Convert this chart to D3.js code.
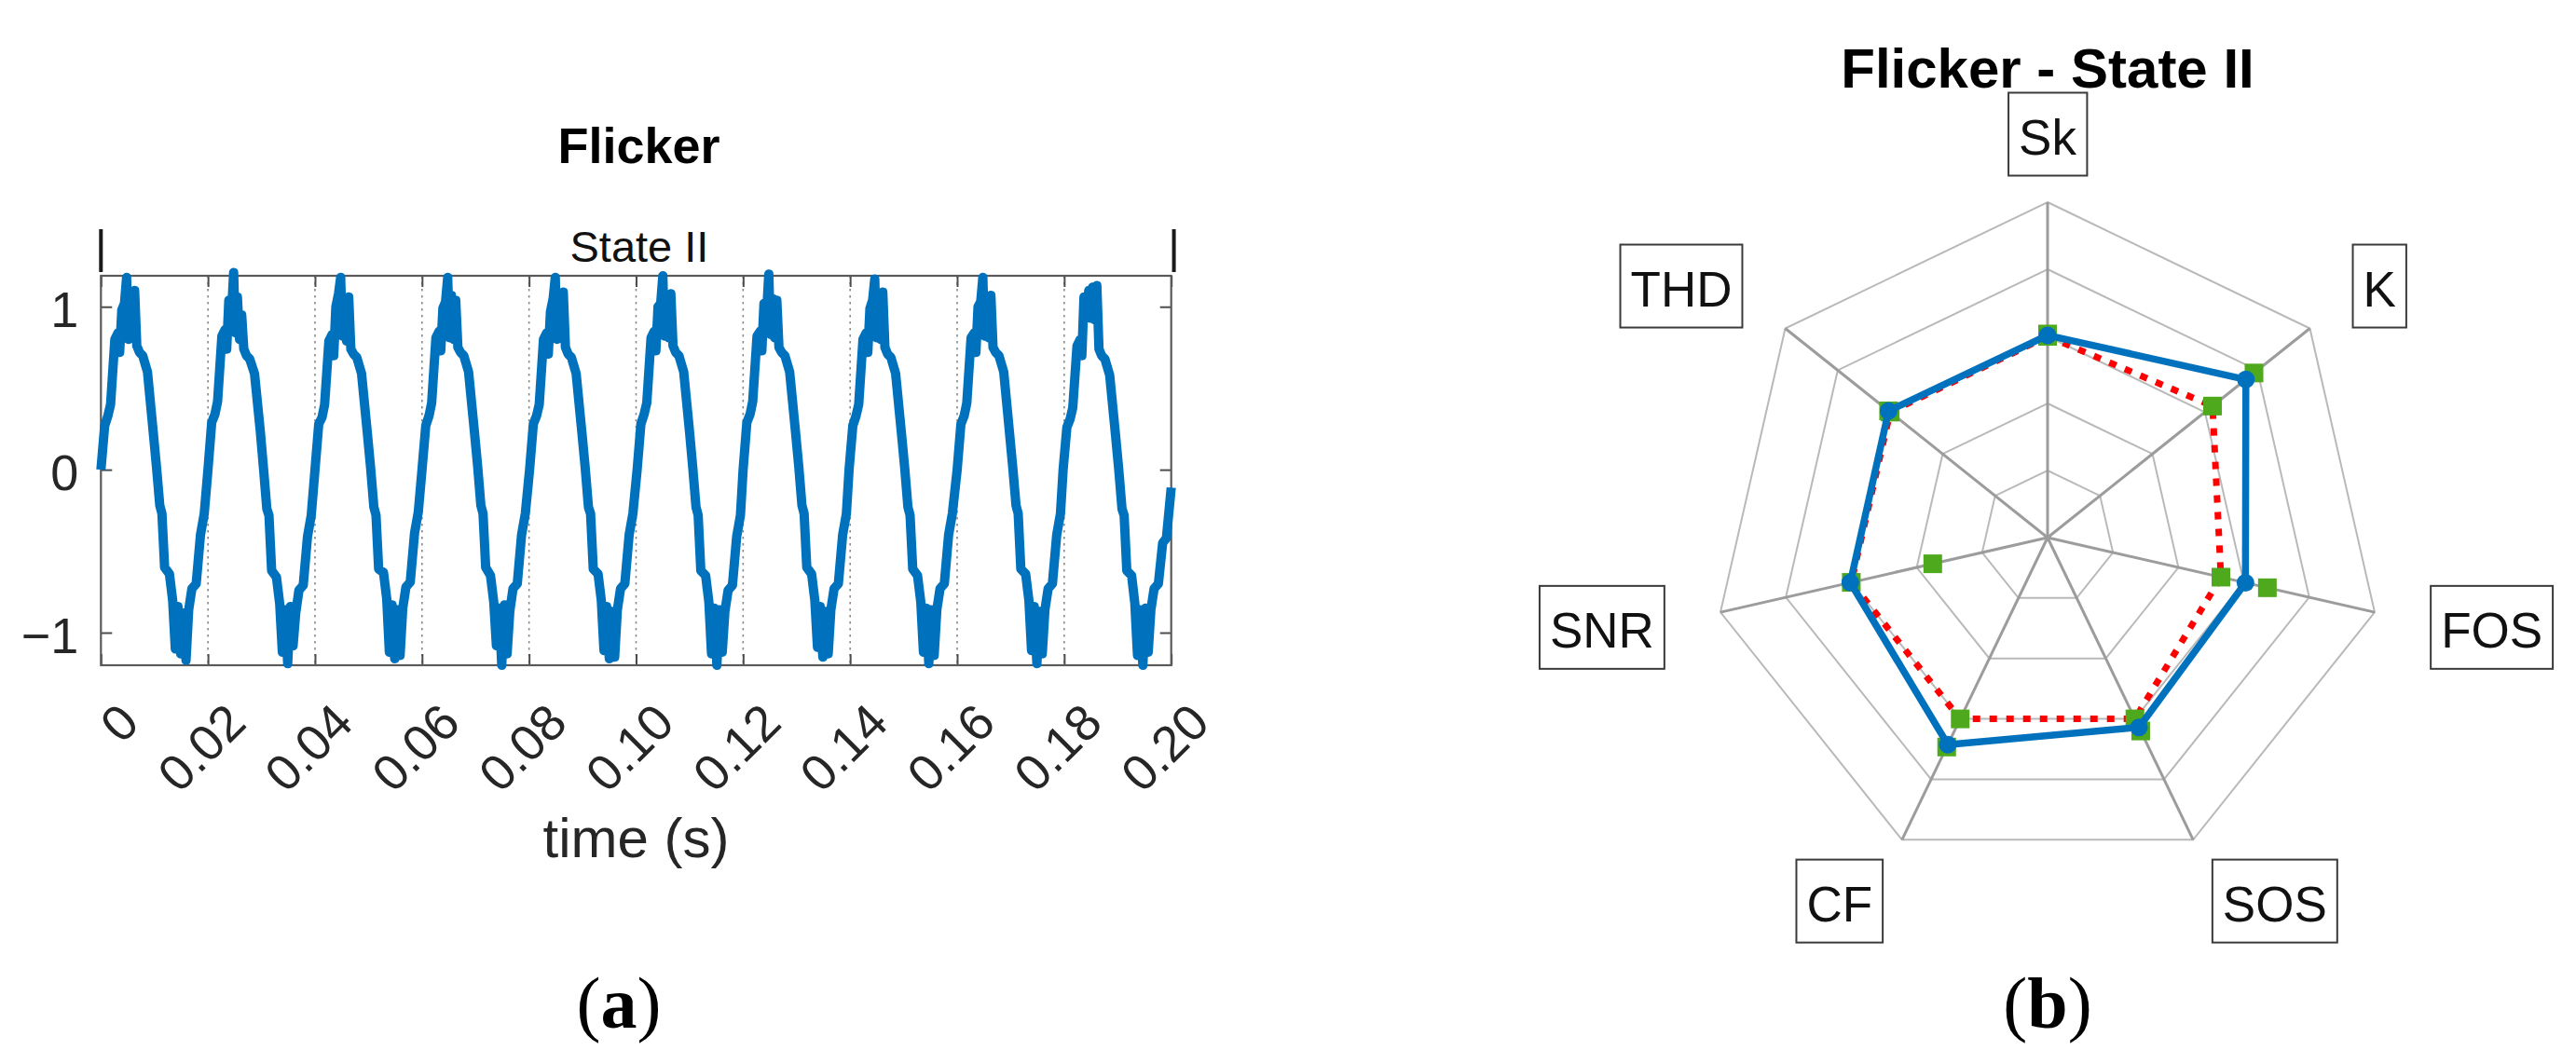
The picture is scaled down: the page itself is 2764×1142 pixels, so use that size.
<!DOCTYPE html>
<html>
<head>
<meta charset="utf-8">
<script src="https://cdn.jsdelivr.net/npm/d3@7"></script>
<style>
  html, body { margin: 0; padding: 0; background: #ffffff; }
  svg { display: block; }
</style>
</head>
<body>
<svg id="chart" width="2764" height="1142"></svg>
<script>
// ---------------- DATA ----------------
// (a) time-domain signal
const timeTicks = [0, 0.02, 0.04, 0.06, 0.08, 0.10, 0.12, 0.14, 0.16, 0.18, 0.20];
const timeTickLabels = ["0", "0.02", "0.04", "0.06", "0.08", "0.10", "0.12", "0.14", "0.16", "0.18", "0.20"];
const valueTicks = [-1, 0, 1];
const valueTickLabels = ["\u22121", "0", "1"];
const stateSpan = [0, 0.2005];
const stateLabel = "State II";

// start time (s) of each 50 Hz cycle, read at the rising zero crossings
const cycleStart = [0, 0.0200, 0.0400, 0.0600, 0.0801, 0.1002, 0.1200, 0.1398, 0.1600, 0.1798];
// position (ms) inside a cycle of each value
const phaseMs = [0, 0.7, 1.3, 1.8, 2.6, 3.2, 3.5, 3.9, 4.4, 4.8, 5.1, 5.5, 5.9, 6.3, 6.7, 7.2, 7.8, 8.7, 9.8, 10.4,
                 11.0, 11.4, 11.9, 12.8, 13.4, 13.9, 14.4, 14.9, 15.4, 15.9, 16.4, 17.0, 17.8, 18.6, 19.3];
const cycle1  = [0,.27,.33,.40,.80,.84,.72,.98,1.02,1.18,.80,1.05,.82,1.10,.76,.72,.70,.60,.22,.01,-.22,-.27,-.60,-.64,-.80,-1.10,-.84,-1.13,-.88,-1.17,-.86,-.73,-.70,-.40,-.27];
const cycle2  = [0,.29,.34,.42,.82,.86,.74,1.04,.96,1.21,.84,1.06,.80,.95,.74,.70,.68,.59,.23,.00,-.24,-.28,-.62,-.66,-.82,-1.12,-.86,-1.19,-.84,-1.08,-.88,-.74,-.71,-.41,-.28];
const cycle3  = [0,.28,.32,.40,.79,.83,.70,1.00,1.08,1.18,.82,1.04,.79,1.06,.74,.71,.69,.59,.22,.01,-.23,-.28,-.61,-.63,-.79,-1.12,-.83,-1.16,-.86,-1.14,-.85,-.72,-.69,-.39,-.26];
const cycle4  = [0,.27,.33,.41,.81,.85,.73,.99,1.03,1.18,.81,1.07,.80,1.04,.75,.72,.70,.60,.23,.02,-.22,-.27,-.60,-.65,-.81,-1.08,-.85,-1.20,-.83,-1.13,-.87,-.73,-.70,-.40,-.27];
const cycle5  = [0,.28,.33,.40,.80,.84,.71,.97,1.05,1.18,.80,1.03,.81,1.09,.75,.71,.69,.59,.22,.01,-.23,-.27,-.61,-.64,-.80,-1.11,-.84,-1.16,-.87,-1.15,-.86,-.73,-.70,-.40,-.27];
const cycle6  = [0,.28,.34,.41,.81,.85,.73,1.00,1.02,1.19,.82,1.06,.81,1.08,.76,.72,.70,.60,.23,.01,-.23,-.28,-.62,-.65,-.81,-1.13,-.85,-1.20,-.86,-1.12,-.87,-.74,-.71,-.41,-.28];
const cycle7  = [0,.29,.34,.42,.82,.85,.73,1.02,.97,1.20,.83,1.05,.81,1.04,.75,.72,.70,.60,.23,.02,-.22,-.27,-.60,-.64,-.80,-1.09,-.84,-1.15,-.87,-1.13,-.86,-.73,-.70,-.40,-.27];
const cycle8  = [0,.27,.33,.40,.80,.84,.72,.99,1.04,1.17,.81,1.06,.80,1.09,.75,.71,.69,.59,.22,.01,-.23,-.28,-.61,-.65,-.81,-1.12,-.85,-1.19,-.86,-1.14,-.86,-.73,-.70,-.40,-.27];
const cycle9  = [0,.28,.33,.41,.81,.84,.72,1.00,1.03,1.18,.82,1.04,.81,1.07,.75,.72,.70,.60,.22,.01,-.22,-.27,-.61,-.64,-.80,-1.11,-.84,-1.19,-.87,-1.13,-.86,-.73,-.70,-.40,-.27];
const cycle10 = [0,.26,.31,.38,.76,.80,.70,1.06,1.00,1.10,.93,1.12,.92,1.13,.74,.70,.68,.58,.21,.00,-.24,-.28,-.62,-.65,-.82,-1.14,-.86,-1.20,-.85,-1.12,-.86,-.73,-.70,-.45,-.42];
const signalEnd = [0.2, -0.11];

// (b) spider plot
const radarAxes  = ["Sk", "K", "FOS", "SOS", "CF", "SNR", "THD"];
const radarRings = [0.2, 0.4, 0.6, 0.8, 1.0];
const radarBlue  = [0.603, 0.756, 0.605, 0.628, 0.685, 0.603, 0.606];
const radarRed   = [0.600, 0.629, 0.530, 0.600, 0.600, 0.600, 0.600];
const radarGreen = [0.607, 0.787, 0.672, 0.640, 0.693, 0.351, 0.606];

// ---------------- DRAW ----------------
const SANS = "'Liberation Sans', Arial, Helvetica, sans-serif";
const SERIF = "'Liberation Serif', 'Times New Roman', serif";
const svg = d3.select("#chart");
svg.append("rect").attr("width", 2764).attr("height", 1142).attr("fill", "#ffffff");

// ===== Panel (a) =====
const A = { left: 108.3, right: 1256.7, top: 296, bottom: 714 };
const x = d3.scaleLinear().domain([0, 0.2]).range([A.left, A.right]);
const y = d3.scaleLinear().domain([-1.2, 1.19]).range([A.bottom, A.top]);
const ga = svg.append("g");

// build signal points
const cycles = [cycle1, cycle2, cycle3, cycle4, cycle5, cycle6, cycle7, cycle8, cycle9, cycle10];
const signal = [];
cycles.forEach((vals, c) => {
  vals.forEach((v, k) => signal.push([cycleStart[c] + phaseMs[k] / 1000, v]));
});
signal.push(signalEnd);

// dotted grid (interior ticks)
ga.append("g").selectAll("line")
  .data(timeTicks.filter(t => t > 0 && t < 0.2))
  .join("line")
  .attr("x1", d => x(d)).attr("x2", d => x(d))
  .attr("y1", A.top).attr("y2", A.bottom)
  .attr("stroke", "#8a8a8a").attr("stroke-width", 1.6)
  .attr("stroke-dasharray", "2.5,4.5");

// ticks (inward) using d3 axes
const tickStyle = g => {
  g.select(".domain").remove();
  g.selectAll(".tick line").attr("stroke", "#4d4d4d").attr("stroke-width", 2);
  g.selectAll(".tick text").remove();
};
ga.append("g").attr("transform", `translate(0,${A.bottom})`)
  .call(d3.axisBottom(x).tickValues(timeTicks).tickSize(-12)).call(tickStyle);
ga.append("g").attr("transform", `translate(0,${A.top})`)
  .call(d3.axisTop(x).tickValues(timeTicks).tickSize(-12)).call(tickStyle);
ga.append("g").attr("transform", `translate(${A.left},0)`)
  .call(d3.axisLeft(y).tickValues(valueTicks).tickSize(-12)).call(tickStyle);
ga.append("g").attr("transform", `translate(${A.right},0)`)
  .call(d3.axisRight(y).tickValues(valueTicks).tickSize(-12)).call(tickStyle);

// box
ga.append("rect")
  .attr("x", A.left).attr("y", A.top)
  .attr("width", A.right - A.left).attr("height", A.bottom - A.top)
  .attr("fill", "none").attr("stroke", "#5a5a5a").attr("stroke-width", 2.2);

// signal line
ga.append("path")
  .datum(signal)
  .attr("d", d3.line().x(d => x(d[0])).y(d => y(d[1])))
  .attr("fill", "none").attr("stroke", "#0072BD")
  .attr("stroke-width", 10).attr("stroke-linejoin", "round").attr("stroke-linecap", "butt");

// y tick labels
ga.append("g").selectAll("text")
  .data(valueTicks)
  .join("text")
  .attr("x", A.left - 24).attr("y", d => y(d) + 22)
  .attr("text-anchor", "end")
  .attr("font-family", SANS).attr("font-size", 54).attr("fill", "#262626")
  .text((d, i) => valueTickLabels[i]);

// x tick labels (rotated 45°)
ga.append("g").selectAll("text")
  .data(timeTicks)
  .join("text")
  .attr("transform", d => `translate(${x(d) + 30},${A.bottom + 51}) rotate(-45)`)
  .attr("text-anchor", "end").attr("dominant-baseline", "central")
  .attr("font-family", SANS).attr("font-size", 54).attr("fill", "#262626")
  .text((d, i) => timeTickLabels[i]);

// x label
ga.append("text")
  .attr("x", (A.left + A.right) / 2).attr("y", 920)
  .attr("text-anchor", "middle")
  .attr("font-family", SANS).attr("font-size", 60).attr("fill", "#262626")
  .text("time (s)");

// title
ga.append("text")
  .attr("x", (A.left + A.right) / 2 + 3).attr("y", 175)
  .attr("text-anchor", "middle")
  .attr("font-family", SANS).attr("font-size", 54).attr("font-weight", "bold").attr("fill", "#000")
  .text("Flicker");

// state markers and label
ga.append("g").selectAll("line")
  .data(stateSpan)
  .join("line")
  .attr("x1", d => x(d)).attr("x2", d => x(d))
  .attr("y1", 246).attr("y2", 292)
  .attr("stroke", "#1a1a1a").attr("stroke-width", 4);
ga.append("text")
  .attr("x", (x(stateSpan[0]) + x(stateSpan[1])) / 2 + 2).attr("y", 281)
  .attr("text-anchor", "middle")
  .attr("font-family", SANS).attr("font-size", 47).attr("fill", "#111")
  .text(stateLabel);

// (a)
const la = svg.append("text")
  .attr("x", 664).attr("y", 1103)
  .attr("text-anchor", "middle")
  .attr("font-family", SERIF).attr("font-size", 78).attr("fill", "#000");
la.append("tspan").text("(");
la.append("tspan").attr("font-weight", "bold").text("a");
la.append("tspan").text(")");

// ===== Panel (b) =====
const cx = 2197, cy = 577, R = 360, LABEL_R = 433;
const n = radarAxes.length;
const angle = i => i * 2 * Math.PI / n;
const r = d3.scaleLinear().domain([0, 1]).range([0, R]);
const gb = svg.append("g").attr("transform", `translate(${cx},${cy})`);

const radial = d3.lineRadial()
  .angle((d, i) => angle(i))
  .radius(d => r(d))
  .curve(d3.curveLinearClosed);

// rings
gb.append("g").selectAll("path")
  .data(radarRings)
  .join("path")
  .attr("d", v => radial(radarAxes.map(() => v)))
  .attr("fill", "none").attr("stroke", "#b9b9b9").attr("stroke-width", 2);

// spokes
gb.append("g").selectAll("line")
  .data(radarAxes)
  .join("line")
  .attr("x1", 0).attr("y1", 0)
  .attr("x2", (d, i) => r(1) * Math.sin(angle(i)))
  .attr("y2", (d, i) => -r(1) * Math.cos(angle(i)))
  .attr("stroke", "#9c9c9c").attr("stroke-width", 3);

const px = (v, i) => r(v) * Math.sin(angle(i));
const py = (v, i) => -r(v) * Math.cos(angle(i));
const SQ = 20;
const GREEN = "#4fa91c";

// red dotted series
gb.append("path")
  .attr("d", radial(radarRed))
  .attr("fill", "none").attr("stroke", "#ff0000")
  .attr("stroke-width", 7).attr("stroke-dasharray", "8,10");

// green square markers (red series and green series)
gb.append("g").selectAll("rect")
  .data(radarRed)
  .join("rect")
  .attr("x", (v, i) => px(v, i) - SQ / 2).attr("y", (v, i) => py(v, i) - SQ / 2)
  .attr("width", SQ).attr("height", SQ).attr("fill", GREEN);
gb.append("g").selectAll("rect")
  .data(radarGreen)
  .join("rect")
  .attr("x", (v, i) => px(v, i) - SQ / 2).attr("y", (v, i) => py(v, i) - SQ / 2)
  .attr("width", SQ).attr("height", SQ).attr("fill", GREEN);

// blue series
gb.append("path")
  .attr("d", radial(radarBlue))
  .attr("fill", "none").attr("stroke", "#0072BD")
  .attr("stroke-width", 7.5).attr("stroke-linejoin", "round");
gb.append("g").selectAll("circle")
  .data(radarBlue)
  .join("circle")
  .attr("cx", (v, i) => px(v, i)).attr("cy", (v, i) => py(v, i))
  .attr("r", 9.5).attr("fill", "#0072BD");

// axis labels in boxes
const labG = gb.append("g");
radarAxes.forEach((name, i) => {
  const s = Math.sin(angle(i)), c = Math.cos(angle(i));
  const ax = LABEL_R * s, ay = -LABEL_R * c;
  const anchor = Math.abs(s) < 0.01 ? "middle" : (s > 0 ? "start" : "end");
  const g = labG.append("g");
  const t = g.append("text")
    .attr("x", ax).attr("y", ay + 3)
    .attr("text-anchor", anchor).attr("dominant-baseline", "central")
    .attr("font-family", SANS).attr("font-size", 53).attr("fill", "#111")
    .text(name);
  const bb = t.node().getBBox();
  g.insert("rect", "text")
    .attr("x", bb.x - 11).attr("y", ay - 44.5)
    .attr("width", bb.width + 22).attr("height", 89)
    .attr("fill", "#ffffff").attr("stroke", "#3a3a3a").attr("stroke-width", 2);
});

// title
svg.append("text")
  .attr("x", cx).attr("y", 94)
  .attr("text-anchor", "middle")
  .attr("font-family", SANS).attr("font-size", 60).attr("font-weight", "bold").attr("fill", "#000")
  .text("Flicker - State II");

// (b)
const lb = svg.append("text")
  .attr("x", cx).attr("y", 1103)
  .attr("text-anchor", "middle")
  .attr("font-family", SERIF).attr("font-size", 78).attr("fill", "#000");
lb.append("tspan").text("(");
lb.append("tspan").attr("font-weight", "bold").text("b");
lb.append("tspan").text(")");
</script>
</body>
</html>
